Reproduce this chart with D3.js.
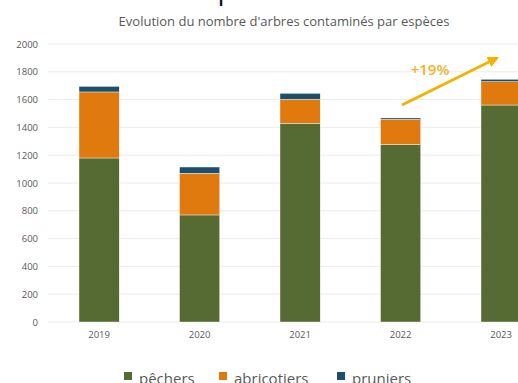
<!DOCTYPE html>
<html>
<head>
<meta charset="utf-8">
<script src="https://cdn.jsdelivr.net/npm/d3@7"></script>
<style>
  body { margin: 0; background: #fff; overflow: hidden; }
  svg { display: block; font-family: "Open Sans", sans-serif; }
</style>
</head>
<body>
<svg id="chart" width="518" height="383"></svg>
<script>
const years = ["2019", "2020", "2021", "2022", "2023"];
const pechers = [1180, 770, 1430, 1278, 1561];
const abricotiers = [475, 300, 172, 180, 168];
const pruniers = [40, 45, 43, 10, 17];
const yTicks = [0, 200, 400, 600, 800, 1000, 1200, 1400, 1600, 1800, 2000];
const seriesNames = ["pêchers", "abricotiers", "pruniers"];
const colors = ["#566b34", "#e07a0e", "#1b4f6b"];

const svg = d3.select("#chart"),
    width = +svg.attr("width"),
    height = +svg.attr("height");

// rows for the stack
const rows = years.map((y, i) => ({
    year: y,
    "pêchers": pechers[i],
    "abricotiers": abricotiers[i],
    "pruniers": pruniers[i]
}));
const stacked = d3.stack().keys(seriesNames)(rows);

const x = d3.scaleBand()
    .domain(years)
    .range([48.85, 551.35])
    .paddingInner(0.6)
    .paddingOuter(0.3);

const y = d3.scaleLinear()
    .domain([0, 2000])
    .range([322, 44]);

// cut-off heading at the very top (only the bottom of it is in the frame)
svg.append("text")
    .attr("x", 6)
    .attr("y", -1.5)
    .attr("font-size", 28)
    .attr("fill", "#111")
    .text("Evolution des espèces");

// title
svg.append("text")
    .attr("x", 284)
    .attr("y", 26)
    .attr("text-anchor", "middle")
    .attr("font-size", 13)
    .attr("fill", "#595959")
    .text("Evolution du nombre d'arbres contaminés par espèces");

// gridlines
svg.append("g")
    .selectAll("line")
    .data(yTicks)
    .enter().append("line")
    .attr("x1", 48)
    .attr("x2", width)
    .attr("y1", d => y(d))
    .attr("y2", d => y(d))
    .attr("stroke", "#ececec")
    .attr("stroke-width", 1);

// y axis labels
const yAxis = d3.axisLeft(y).tickValues(yTicks).tickFormat(d3.format("d")).tickSize(0).tickPadding(0);
svg.append("g")
    .attr("transform", "translate(38,0)")
    .call(yAxis)
    .call(g => g.select(".domain").remove())
    .call(g => g.selectAll("text")
        .attr("font-size", 9.5)
        .attr("font-family", "Open Sans, sans-serif")
        .attr("fill", "#595959"));

// x axis labels
const xAxis = d3.axisBottom(x).tickSize(0).tickPadding(0);
svg.append("g")
    .attr("transform", "translate(0,331)")
    .call(xAxis)
    .call(g => g.select(".domain").remove())
    .call(g => g.selectAll("text")
        .attr("font-size", 9.5)
        .attr("font-family", "Open Sans, sans-serif")
        .attr("fill", "#595959"));

// bars
svg.append("g")
    .selectAll("g")
    .data(stacked)
    .enter().append("g")
    .attr("fill", (d, i) => colors[i])
    .selectAll("rect")
    .data(d => d)
    .enter().append("rect")
    .attr("x", d => x(d.data.year))
    .attr("y", d => y(d[1]))
    .attr("width", x.bandwidth())
    .attr("height", d => y(d[0]) - y(d[1]))
    .attr("stroke", "#ffffff")
    .attr("stroke-width", 0.4);

// growth arrow 2022 -> 2023
const gold = "#f0b400";
svg.append("defs").append("marker")
    .attr("id", "head")
    .attr("viewBox", "0 0 10 10")
    .attr("refX", 8)
    .attr("refY", 5)
    .attr("markerWidth", 4)
    .attr("markerHeight", 4)
    .attr("orient", "auto")
    .append("path")
    .attr("d", "M0,0 L10,5 L0,10 Z")
    .attr("fill", gold);

svg.append("line")
    .attr("x1", 402)
    .attr("y1", 105)
    .attr("x2", 497)
    .attr("y2", 58)
    .attr("stroke", gold)
    .attr("stroke-width", 2.8)
    .attr("marker-end", "url(#head)");

const total22 = pechers[3] + abricotiers[3] + pruniers[3];
const total23 = pechers[4] + abricotiers[4] + pruniers[4];
svg.append("text")
    .attr("x", 430)
    .attr("y", 75)
    .attr("text-anchor", "middle")
    .attr("font-size", 15)
    .attr("font-weight", 600)
    .attr("fill", "#f0b32a")
    .text("+" + Math.round((total23 / total22 - 1) * 100) + "%");

// legend
const legendX = [124, 219, 337];
const legend = svg.append("g")
    .selectAll("g")
    .data(seriesNames)
    .enter().append("g")
    .attr("transform", (d, i) => `translate(${legendX[i]},372)`);
legend.append("rect")
    .attr("width", 8)
    .attr("height", 8)
    .attr("fill", (d, i) => colors[i]);
legend.append("text")
    .attr("x", 15)
    .attr("y", 12)
    .attr("font-size", 15)
    .attr("fill", "#595959")
    .text(d => d);
</script>
</body>
</html>
